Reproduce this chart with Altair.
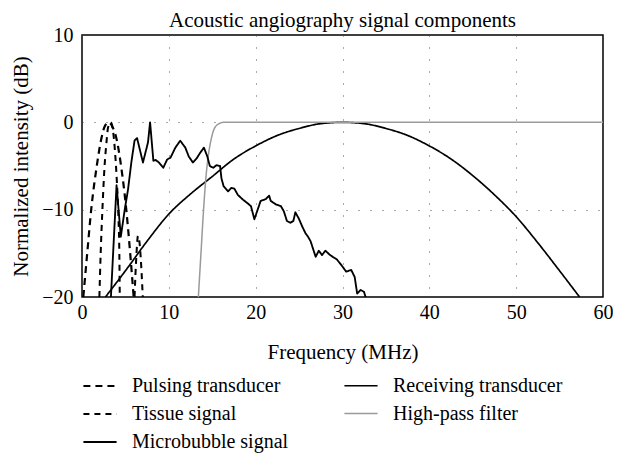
import altair as alt
import pandas as pd

# Series names (legend order; legend fills column by column)
series_order = ["Pulsing transducer", "Tissue signal", "Microbubble signal",
                "Receiving transducer", "High-pass filter"]

# Pulsing transducer
pulse_f = [0.15, 0.6, 1.06, 1.7, 2.2, 2.6, 3.05, 3.5, 4.0, 4.5, 5.1, 5.55, 5.95]
pulse_db = [-20, -15, -10, -5, -2, -0.5, 0, -0.5, -2, -5, -10, -15, -20]

# Tissue signal (fundamental + harmonic)
tissue1_f = [2.0, 2.15, 2.35, 2.6, 2.8, 3.0, 3.3, 3.55, 3.75, 4.0, 4.2, 4.3, 4.35]
tissue1_db = [-20, -15, -10, -5, -2.5, -0.6, 0, -0.8, -2.7, -6.5, -11, -15, -20]
tissue2_f = [6.05, 6.25, 6.45, 6.65, 6.85, 7.0]
tissue2_db = [-20, -15.5, -13, -14, -17, -20]

# Microbubble signal
micro_f = [3.33, 3.98, 4.47, 4.92, 5.30, 5.68, 6.05, 6.34, 7.02, 7.6, 7.84, 8.22,
           8.48, 8.86, 9.36, 9.81, 10.19, 10.75, 11.31, 11.9, 12.29, 12.77, 13.22,
           13.6, 14.04, 14.43, 14.72, 15.11, 15.5, 15.9, 16.06, 16.3, 16.82, 17.2,
           17.55, 17.94, 18.53, 19.11, 19.46, 19.85, 20.23, 20.57, 21.16, 21.55,
           21.74, 22.33, 22.91, 23.25, 23.6, 23.99, 24.34, 24.57, 24.96, 25.35,
           25.74, 26.03, 26.32, 26.91, 27.27, 27.64, 28.03, 28.57, 29.35, 29.84,
           30.42, 31.0, 31.4, 31.69, 32.08, 32.47, 32.66]
micro_db = [-20, -7.2, -13.1, -10, -7.7, -4.6, -2.1, -1.8, -4.6, -2.3, 0, -4.4,
            -4.3, -4.6, -5.2, -4.25, -4.05, -2.9, -2.1, -2.9, -3.9, -4.6, -4.1,
            -3.5, -2.9, -3.9, -5.0, -5.2, -4.9, -5.0, -6.4, -7.3, -7.9, -7.5,
            -7.6, -8.3, -8.85, -9.3, -9.6, -11.1, -10, -9.0, -8.8, -8.4,
            -9.0, -9.4, -9.6, -10.2, -11.3, -11.5, -11.3, -10.3, -11, -11.9,
            -12.7, -13.1, -13.6, -15.4, -14.7, -15.2, -14.7, -15.2, -15.7, -16.3,
            -17.1, -16.9, -17.7, -19.6, -19.2, -19.4, -20]

# Receiving transducer
recv_f = [2.7, 5, 7.5, 10, 12.5, 15, 17.5, 20, 22.5, 25, 27.5, 30, 32.5, 35,
          37.5, 40, 42.5, 45, 47.5, 50, 52.5, 55, 57.3]
recv_db = [-20, -17.0, -13.6, -10.5, -8.2, -6.2, -4.2, -2.7, -1.5, -0.7, -0.15,
           0, -0.15, -0.7, -1.5, -2.7, -4.2, -6.1, -8.3, -10.8, -13.8, -17.0, -20]

# High-pass filter
hp_f = [13.4, 13.7, 14.0, 14.3, 14.55, 14.8, 15.2, 15.7, 16.3, 60]
hp_db = [-20, -15, -10, -6, -3.8, -2.3, -0.8, -0.2, 0, 0]

rows = []
def add(name, seg, fs, dbs):
    for f, d in zip(fs, dbs):
        rows.append({"series": name, "seg": seg, "f": f, "db": d})

add("Pulsing transducer", "p", pulse_f, pulse_db)
add("Tissue signal", "t1", tissue1_f, tissue1_db)
add("Tissue signal", "t2", tissue2_f, tissue2_db)
add("Microbubble signal", "m", micro_f, micro_db)
add("Receiving transducer", "r", recv_f, recv_db)
add("High-pass filter", "h", hp_f, hp_db)
df = pd.DataFrame(rows)

FONT = "Liberation Serif"

color_scale = alt.Scale(domain=series_order,
                        range=["black", "black", "black", "black", "#9a9a9a"])
dash_scale = alt.Scale(domain=series_order,
                       range=[[7, 5], [6, 5], [1, 0], [1, 0], [1, 0]])
width_scale = alt.Scale(domain=series_order, range=[2.2, 1.5, 1.1, 2.2, 1.3])

legend = alt.Legend(title=None, orient="none", legendX=0, legendY=333,
                    columns=2, symbolType="stroke", symbolSize=1100,
                    labelFont=FONT, labelFontSize=20, labelColor="black",
                    columnPadding=52, rowPadding=0, labelOffset=14,
                    labelLimit=300)

x_enc = alt.X("f:Q", scale=alt.Scale(domain=[0, 60], nice=False),
              axis=alt.Axis(values=[0, 10, 20, 30, 40, 50, 60], title="Frequency (MHz)",
                            grid=True, ticks=False, domain=False, labelPadding=5,
                            labelFlush=False, titlePadding=19))
y_enc = alt.Y("db:Q", scale=alt.Scale(domain=[-20, 10], nice=False),
              axis=alt.Axis(values=[-20, -10, 0, 10], title="Normalized intensity (dB)",
                            grid=True, ticks=False, domain=False, labelPadding=9,
                            titlePadding=10))

enc = dict(
    x=x_enc, y=y_enc,
    color=alt.Color("series:N", scale=color_scale, legend=legend),
    strokeDash=alt.StrokeDash("series:N", scale=dash_scale, legend=legend),
    strokeWidth=alt.StrokeWidth("series:N", scale=width_scale, legend=legend),
    detail="seg:N",
)

smooth = alt.Chart(df).transform_filter(
    alt.FieldOneOfPredicate(field="series",
                            oneOf=["Pulsing transducer", "Tissue signal",
                                   "Receiving transducer", "High-pass filter"])
).mark_line(interpolate="monotone", clip=True).encode(**enc)

noisy = alt.Chart(df).transform_filter(
    alt.FieldEqualPredicate(field="series", equal="Microbubble signal")
).mark_line(clip=True, strokeJoin="round").encode(**enc)

chart = alt.layer(smooth, noisy).properties(
    width=521, height=262,
    title=alt.TitleParams("Acoustic angiography signal components",
                          font=FONT, fontSize=21, fontWeight="normal",
                          color="black", offset=-6, anchor="middle", frame="group"),
    autosize=alt.AutoSizeParams(type="none"),
    padding={"left": 74, "top": 27, "right": 10, "bottom": 157},
).configure_view(
    stroke="black", strokeWidth=1.5
).configure_axis(
    labelFont=FONT, labelFontSize=20, labelColor="black",
    titleFont=FONT, titleFontSize=21, titleColor="black", titleFontWeight="normal",
    gridColor="#444", gridDash=[1, 11], gridWidth=1, gridOpacity=0.9
)

chart.save("out.html", embed_options={"renderer": "svg", "actions": False})
